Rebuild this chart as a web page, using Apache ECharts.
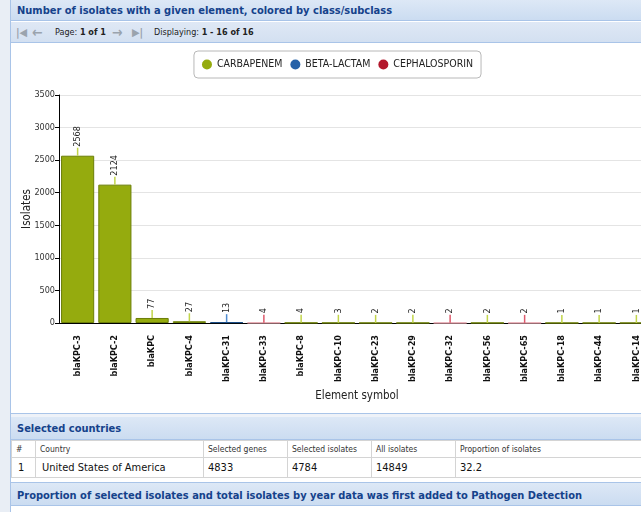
<!DOCTYPE html>
<html>
<head>
<meta charset="utf-8">
<script src="https://cdn.jsdelivr.net/npm/echarts@6/dist/echarts.min.js"></script>
<style>
  html, body { margin: 0; padding: 0; width: 641px; height: 512px; overflow: hidden; background: #fff;
    font-family: 'DejaVu Sans Condensed', 'DejaVu Sans', sans-serif; }
  .strip { position: absolute; left: 0; top: 0; width: 10px; height: 512px; background: #e9eef5; border-right: 1px solid #a9c4e8; }
  .hdr { position: absolute; left: 11px; width: 700px; height: 21px; border-bottom: 1px solid #a9c4e8;
    background: linear-gradient(#dde8f6, #cbdcf1); color: #15428b; font-weight: bold; font-size: 11px;
    line-height: 22px; padding-left: 6px; box-sizing: border-box; }
  .tbar { position: absolute; left: 11px; top: 22px; width: 700px; height: 21px; border-bottom: 1px solid #a9c4e8;
    background: linear-gradient(#dfe8f5, #d3e0f1); font-size: 9px; color: #222; line-height: 21px; box-sizing: border-box; }
  .tbar span { position: absolute; top: 0; }
  .ico { color: #9aa3ad; font-size: 14px; font-weight: bold; }
  #chart { position: absolute; left: 11px; top: 43px; width: 653px; height: 370px; }
  .sep { position: absolute; left: 11px; top: 413px; width: 700px; height: 3px; background: #eef2f8; border-top: 1px solid #a9c4e8; }
  table { position: absolute; left: 11px; top: 440px; border-collapse: collapse; width: 700px; }
  td { border: 1px solid #d4d4d4; padding: 0 0 0 4px; white-space: nowrap; overflow: hidden; }
  tr.h td { height: 16px; font-size: 8.5px; color: #333; }
  tr.d td { height: 19px; font-size: 11px; color: #111; }
</style>
</head>
<body>
<div class="strip"></div>
<div class="hdr" style="top:0">Number of isolates with a given element, colored by class/subclass</div>
<div class="tbar">
  <span class="ico" style="left:5px;font-size:11px">|&#9664;</span>
  <span class="ico" style="left:21px">&#8592;</span>
  <span style="left:44px">Page: <b>1 of 1</b></span>
  <span class="ico" style="left:101px">&#8594;</span>
  <span class="ico" style="left:121px;font-size:11px">&#9654;|</span>
  <span style="left:143px">Displaying: <b>1 - 16 of 16</b></span>
</div>
<div id="chart"></div>
<div class="sep"></div>
<div class="hdr" style="top:417px;height:23px;line-height:24px">Selected countries</div>
<table>
  <tr class="h"><td style="width:19px">#</td><td style="width:163px">Country</td><td style="width:79px">Selected genes</td><td style="width:79px">Selected isolates</td><td style="width:79px">All isolates</td><td>Proportion of isolates</td></tr>
  <tr class="d"><td style="padding-left:6px">1</td><td style="padding-left:6px">United States of America</td><td>4833</td><td>4784</td><td>14849</td><td>32.2</td></tr>
</table>
<div class="hdr" style="top:482px;height:24px;line-height:25px;border-top:1px solid #a9c4e8">Proportion of selected isolates and total isolates by year data was first added to Pathogen Detection</div>
<script>
var categories = ['blaKPC-3', 'blaKPC-2', 'blaKPC', 'blaKPC-4', 'blaKPC-31', 'blaKPC-33', 'blaKPC-8', 'blaKPC-10',
  'blaKPC-23', 'blaKPC-29', 'blaKPC-32', 'blaKPC-56', 'blaKPC-65', 'blaKPC-18', 'blaKPC-44', 'blaKPC-14'];
var isolates = [2568, 2124, 77, 27, 13, 4, 4, 3, 2, 2, 2, 2, 2, 1, 1, 1];
var classOf = ['CARBAPENEM', 'CARBAPENEM', 'CARBAPENEM', 'CARBAPENEM', 'BETA-LACTAM', 'CEPHALOSPORIN', 'CARBAPENEM', 'CARBAPENEM',
  'CARBAPENEM', 'CARBAPENEM', 'CEPHALOSPORIN', 'CARBAPENEM', 'CEPHALOSPORIN', 'CARBAPENEM', 'CARBAPENEM', 'CARBAPENEM'];
var classes = ['CARBAPENEM', 'BETA-LACTAM', 'CEPHALOSPORIN'];

var fills = ['#95ab0e', '#2662a8', '#b3182c'];
var borders = ['#6c7f08', '#1b4d86', '#e7a3ad'];
var stems = ['#c2d54a', '#4f8bd0', '#dd5a6c'];
var font = "'DejaVu Sans Condensed', 'DejaVu Sans', sans-serif";

var chartDom = document.getElementById('chart');
var myChart = echarts.init(chartDom);

var barSeries = classes.map(function (cls, k) {
  return {
    name: cls,
    type: 'bar',
    stack: 'all',
    barCategoryGap: '11%',
    data: isolates.map(function (v, i) { return classOf[i] === cls ? v : '-'; }),
    itemStyle: { color: fills[k], borderColor: borders[k], borderWidth: 1 },
    label: {
      show: true, position: 'top', distance: 9, rotate: 90,
      align: 'left', verticalAlign: 'middle',
      fontSize: 9, color: '#222', fontFamily: font
    }
  };
});

// little stems from bar tops up to the value labels
var stemSeries = {
  type: 'custom',
  silent: true,
  z: 3,
  data: isolates.map(function (v, i) { return [i, v, classes.indexOf(classOf[i])]; }),
  renderItem: function (params, api) {
    var p = api.coord([api.value(0), api.value(1)]);
    return {
      type: 'line',
      shape: { x1: p[0], y1: p[1], x2: p[0], y2: p[1] - 8 },
      style: { stroke: stems[api.value(2)], lineWidth: 1.5 }
    };
  }
};

var option = {
  animation: false,
  textStyle: { fontFamily: font },
  legend: {
    data: classes.map(function (c, k) { return { name: c, itemStyle: { color: fills[k], borderWidth: 0 } }; }),
    top: 8,
    left: 'center',
    icon: 'circle',
    itemWidth: 10,
    itemHeight: 10,
    itemGap: 8,
    padding: [8, 8, 8, 8],
    borderColor: '#b8b8b8',
    borderWidth: 1,
    borderRadius: 4,
    textStyle: { fontSize: 10.5, color: '#222', fontFamily: font }
  },
  grid: { left: 48, right: 9, top: 52, bottom: 90, outerBoundsMode: 'none', containLabel: false },
  xAxis: {
    type: 'category',
    data: categories,
    name: 'Element symbol',
    nameLocation: 'middle',
    nameGap: 63,
    nameTextStyle: { fontSize: 11.5, color: '#222', fontFamily: font },
    axisLine: { lineStyle: { color: '#000' } },
    axisTick: { alignWithLabel: true, length: 5, lineStyle: { color: '#000' } },
    axisLabel: { rotate: 90, interval: 0, fontSize: 9, fontWeight: 'bold', color: '#111', margin: 12, fontFamily: font }
  },
  yAxis: {
    type: 'value',
    min: 0,
    max: 3500,
    interval: 500,
    name: 'Isolates',
    nameLocation: 'middle',
    nameGap: 26,
    nameMoveOverlap: false,
    nameTextStyle: { fontSize: 11.5, color: '#222', fontFamily: font },
    axisLine: { show: true, lineStyle: { color: '#000' } },
    axisTick: { show: true, length: 4, lineStyle: { color: '#000' } },
    axisLabel: { fontSize: 9, color: '#333', margin: 4, fontFamily: font, formatter: function (v) { return String(v); } },
    splitLine: { lineStyle: { color: '#e4e4e4' } }
  },
  series: barSeries.concat([stemSeries])
};

option && myChart.setOption(option);
</script>
</body>
</html>
